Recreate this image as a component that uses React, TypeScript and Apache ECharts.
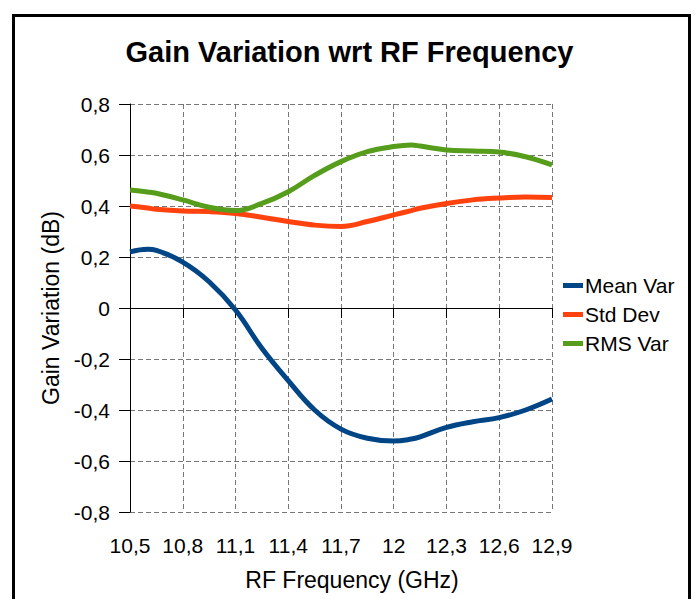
import React, { useEffect, useRef } from "react";
import * as echarts from "echarts";

const frequencies = [10.5, 10.6, 10.65, 10.8, 10.95, 11.1, 11.25, 11.4, 11.55, 11.7, 11.85, 12.0, 12.1, 12.15, 12.3, 12.45, 12.6, 12.75, 12.9];
const meanVar = [0.22, 0.23, 0.226, 0.18, 0.103, -0.008, -0.158, -0.285, -0.4, -0.475, -0.511, -0.522, -0.514, -0.505, -0.468, -0.446, -0.43, -0.4, -0.357];
const stdDev = [0.4, 0.392, 0.387, 0.38, 0.378, 0.371, 0.356, 0.339, 0.325, 0.32, 0.339, 0.365, 0.382, 0.391, 0.41, 0.424, 0.431, 0.435, 0.433];
const rmsVar = [0.463, 0.455, 0.45, 0.424, 0.395, 0.382, 0.41, 0.456, 0.52, 0.574, 0.613, 0.633, 0.639, 0.635, 0.62, 0.616, 0.612, 0.593, 0.561];

const seriesNames = ["Mean Var", "Std Dev", "RMS Var"];
const seriesColors = ["#004586", "#ff420e", "#579d1c"];
const seriesValues = [meanVar, stdDev, rmsVar];

const FONT = "'Liberation Sans', Arial, sans-serif";

function fmt(v: number): string {
  const r = Math.round(v * 10) / 10;
  if (r === 0) return "0";
  return String(r).replace(".", ",");
}

export default function App() {
  const ref = useRef<HTMLDivElement>(null);
  useEffect(() => {
    document.body.style.margin = "0";
    const chart = echarts.init(ref.current!, undefined, { renderer: "svg" });
    chart.setOption({
      animation: false,
      backgroundColor: "#ffffff",
      title: {
        text: "Gain Variation wrt RF Frequency",
        left: "center",
        top: 32,
        textStyle: { fontFamily: FONT, fontSize: 29, fontWeight: "bold", color: "#000" },
      },
      graphic: [
        {
          type: "rect",
          shape: { x: 13.5, y: 15.5, width: 676, height: 640 },
          style: { fill: "none", stroke: "#000", lineWidth: 3 },
          silent: true,
        },
      ],
      legend: {
        orient: "vertical",
        left: 558,
        top: 270,
        itemGap: 8,
        itemWidth: 20,
        itemHeight: 5,
        icon: "rect",
        textStyle: { fontFamily: FONT, fontSize: 21, color: "#000", padding: [0, 0, 0, -3] },
        data: seriesNames,
      },
      grid: { left: 130, right: 147, top: 104, bottom: 87 },
      xAxis: {
        type: "value",
        min: 10.5,
        max: 12.9,
        interval: 0.3,
        name: "RF Frequency (GHz)",
        nameLocation: "middle",
        nameGap: 56,
        nameTextStyle: { fontFamily: FONT, fontSize: 23, color: "#000", padding: [0, 0, 0, 22] },
        axisLine: { show: true, lineStyle: { color: "#000", width: 1 } },
        axisTick: { show: true, length: 10, lineStyle: { color: "#000" } },
        axisLabel: { fontFamily: FONT, fontSize: 21, color: "#000", margin: 23, formatter: fmt },
        splitLine: { show: true, lineStyle: { color: "#777", type: [5, 3], width: 1 } },
      },
      yAxis: {
        type: "value",
        min: -0.8,
        max: 0.8,
        interval: 0.2,
        name: "Gain Variation (dB)",
        nameLocation: "middle",
        nameGap: 66,
        nameTextStyle: { fontFamily: FONT, fontSize: 23, color: "#000" },
        axisLine: { show: true, lineStyle: { color: "#000", width: 1 } },
        axisTick: { show: true, length: 11, lineStyle: { color: "#000" } },
        axisLabel: { fontFamily: FONT, fontSize: 21, color: "#000", margin: 20, formatter: fmt },
        splitLine: { show: true, lineStyle: { color: "#777", type: [5, 3], width: 1 } },
      },
      series: seriesNames.map((name, i) => ({
        name,
        type: "line",
        data: frequencies.map((f, j) => [f, seriesValues[i][j]]),
        smooth: 0.4,
        showSymbol: false,
        symbol: "none",
        lineStyle: { color: seriesColors[i], width: 5 },
        itemStyle: { color: seriesColors[i] },
      })),
    });
    return () => chart.dispose();
  }, []);
  return <div ref={ref} style={{ width: 699, height: 599 }} />;
}
